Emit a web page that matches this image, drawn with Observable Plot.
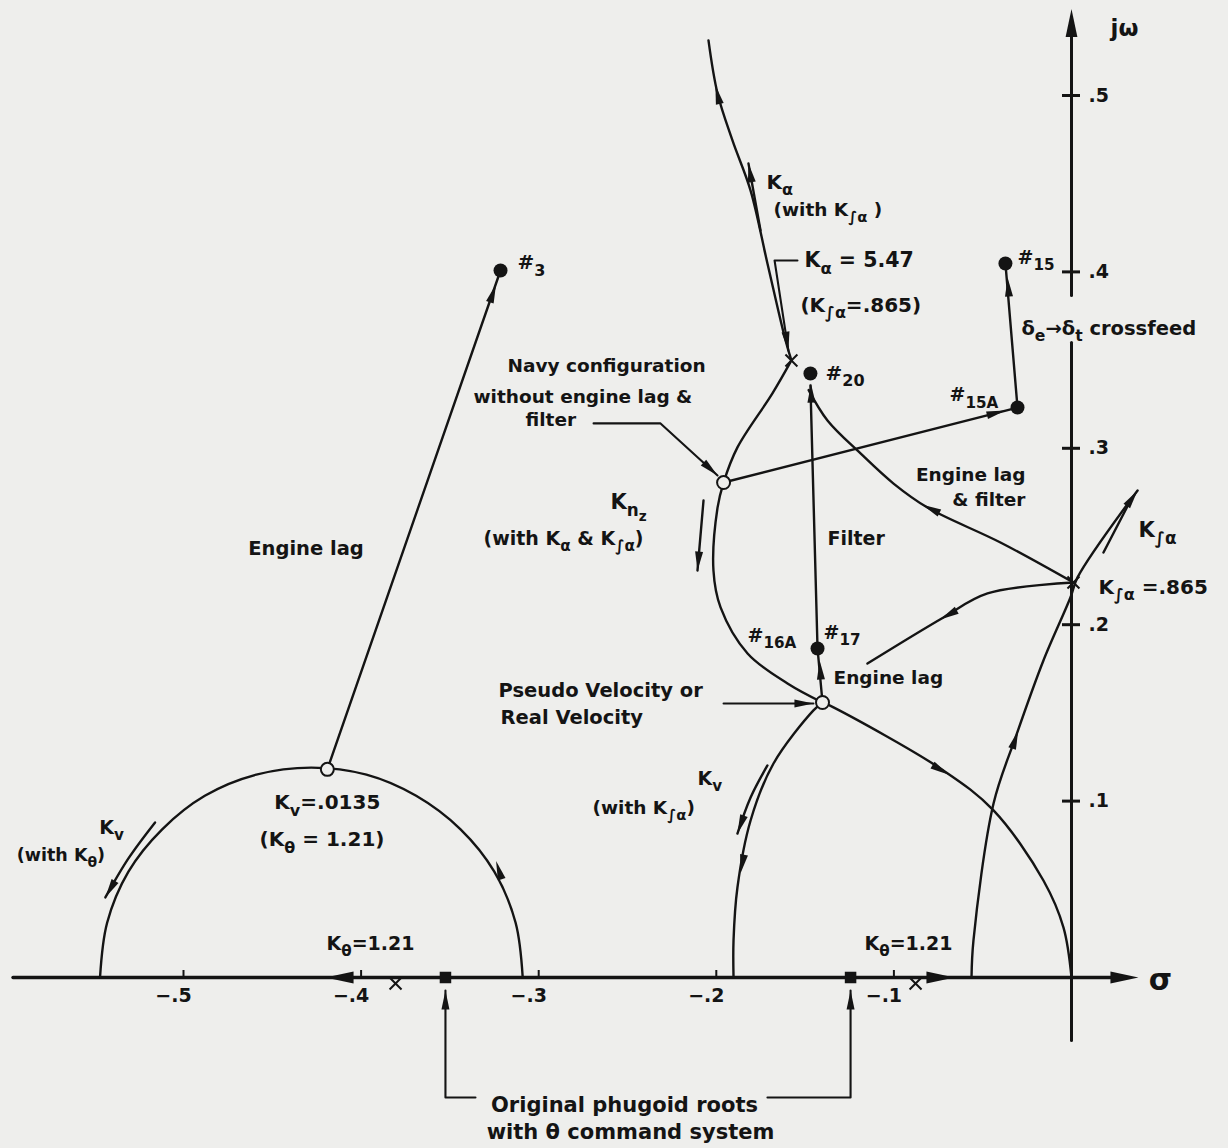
<!DOCTYPE html>
<html><head><meta charset="utf-8">
<script src="https://cdn.jsdelivr.net/npm/d3@7"></script>
<script src="https://cdn.jsdelivr.net/npm/@observablehq/plot@0.6"></script>
<style>html,body{margin:0;padding:0;background:#eeeeec;overflow:hidden}svg{display:block}</style>
</head><body><div id="chart"></div>
<script>
// ---------- data (σ, ω) ----------
const xTickValues = [-0.5, -0.4, -0.3, -0.2, -0.1];
const xTickLabels = ["−.5", "−.4", "−.3", "−.2", "−.1"];
const yTickValues = [0.1, 0.2, 0.3, 0.4, 0.5];
const yTickLabels = [".1", ".2", ".3", ".4", ".5"];

const semicircle = [[-0.547,0],[-0.543,0.031],[-0.531,0.060],[-0.512,0.084],[-0.488,0.103],[-0.459,0.115],[-0.428,0.119],[-0.397,0.115],[-0.369,0.103],[-0.344,0.084],[-0.325,0.060],[-0.313,0.031],[-0.309,0]];
const branchKalpha = [[-0.2044,0.5312],[-0.1993,0.5011],[-0.1909,0.4745],[-0.1807,0.4461],[-0.1712,0.4048],[-0.1610,0.3611],[-0.1577,0.3498]];
const branchKnz = [[-0.1577,0.3498],[-0.1684,0.3311],[-0.1881,0.3005],[-0.1959,0.2806],[-0.1993,0.2664],[-0.2016,0.2307],[-0.1976,0.2098],[-0.1824,0.1837],[-0.1599,0.1667],[-0.1402,0.1559]];
const branchLagFilter = [[0.0011,0.2239],[-0.0400,0.2466],[-0.0811,0.2664],[-0.1002,0.2800],[-0.1188,0.2971],[-0.1374,0.3158],[-0.1480,0.3330]];
const branchLag = [[0.0011,0.2239],[-0.0473,0.2177],[-0.0721,0.2041],[-0.1149,0.1780]];
const branchToOrigin = [[-0.1402,0.1559],[-0.1340,0.1531],[-0.0721,0.1173],[-0.0439,0.0947],[-0.0158,0.0550],[-0.0045,0.0283],[0,0]];
const branchToReal = [[-0.1402,0.1559],[-0.1453,0.1514],[-0.1678,0.1213],[-0.1807,0.0890],[-0.1881,0.0510],[-0.1903,0.0210],[-0.1903,0]];
const branchKfa = [[-0.0563,0],[-0.0552,0.0210],[-0.0439,0.0986],[-0.0315,0.1361],[-0.0158,0.1797],[-0.0006,0.2154],[0.0034,0.2268],[0.0372,0.2761]];
const kvThetaArrow = [[-0.516,0.0879],[-0.531,0.0675],[-0.544,0.0454]];
const kvFaArrow = [[-0.1712,0.1202],[-0.1807,0.1020],[-0.1881,0.0816]];

const engineLagLine = [[-0.419,0.118],[-0.3215,0.4008]];
const navyTo15A = [[-0.1959,0.2806],[-0.0304,0.3231]];
const line15Ato15 = [[-0.0304,0.3231],[-0.0372,0.4048]];
const filterLine = [[-0.1430,0.1865],[-0.1470,0.3356]];
const lagUpLine = [[-0.1402,0.1559],[-0.1430,0.1865]];
const kalphaArrow = [[-0.1751,0.4235],[-0.1819,0.4615]];
const knzArrow = [[-0.2072,0.2704],[-0.2106,0.2307]];
const kfaParallel = [[0.0180,0.2409],[0.0332,0.2704]];
const kaPointer = [[-0.1543,0.4065],[-0.1672,0.4065],[-0.1594,0.3554]];
const navyPointer = [[-0.2691,0.3141],[-0.2314,0.3141],[-0.1993,0.2846]];
const pseudoPointer = [[-0.1959,0.1553],[-0.1453,0.1553]];
const bracketLeft = [[-0.3525,-0.0074],[-0.3525,-0.068],[-0.3356,-0.068]];
const bracketRight = [[-0.1712,-0.068],[-0.1244,-0.068],[-0.1244,-0.0074]];

const filledDots = [[-0.3215,0.4008],[-0.1470,0.3424],[-0.0372,0.4048],[-0.0304,0.3231],[-0.1430,0.1865]];
const openCircles = [[-0.419,0.118],[-0.1959,0.2806],[-0.1402,0.1559]];
const squares = [[-0.3525,0],[-0.1244,0]];
const crosses = [[-0.3806,-0.0034],[-0.0878,-0.0034],[-0.1577,0.3498],[0.0011,0.2239]];

// arrowheads: [tipσ, tipω, fromσ, fromω]
const arrowheads = [
  [-0.3240,0.3930,-0.419,0.118],[-0.324,0.066,-0.316,0.040],[-0.544,0.0454,-0.531,0.0675],
  [-0.2005,0.5057,-0.1965,0.4887],[-0.1819,0.4615,-0.1751,0.4235],[-0.1594,0.3554,-0.1672,0.4065],
  [-0.1467,0.3367,-0.1430,0.1865],[-0.1418,0.1797,-0.1402,0.1559],[-0.0372,0.3214,-0.1959,0.2806],
  [-0.0360,0.3968,-0.0304,0.3231],[-0.0840,0.2680,-0.0400,0.2466],[-0.0740,0.2030,-0.0473,0.2177],
  [-0.0690,0.1150,-0.1340,0.1531],[-0.1864,0.0590,-0.1807,0.0890],[-0.1881,0.0816,-0.1807,0.1020],
  [-0.2106,0.2307,-0.2072,0.2704],[-0.0300,0.1400,-0.0439,0.0986],[0.0372,0.2761,0.0034,0.2268],
  [-0.1993,0.2846,-0.2314,0.3141],[-0.1453,0.1553,-0.1959,0.1553],
  [-0.3525,-0.0074,-0.3525,-0.068],[-0.1244,-0.0074,-0.1244,-0.068]
];
const axisArrowheads = [[0.0377,0,0,0],[0,0.549,0,0.5],[-0.420,0,-0.40,0],[-0.0659,0,-0.09,0]];

const xAxisLine = [[-0.596,0],[0.030,0]];
const yAxisLower = [[0,-0.0357],[0,0.360]];
const yAxisUpper = [[0,0.3866],[0,0.535]];

// labels: [text, σ, ω, size]
const labelsMiddle = [
  ["Engine lag",-0.431,0.243,19.5],["K_{v}=.0135",-0.419,0.099,20],["(K_{θ} = 1.21)",-0.422,0.078,20],
  ["K_{θ}=1.21",-0.3947,0.0193,19],["K_{θ}=1.21",-0.0918,0.0193,19],["K_{v}",-0.5405,0.085,19],
  ["(with K_{θ})",-0.569,0.069,17.5],["Original phugoid roots",-0.2517,-0.0726,21],
  ["with θ command system",-0.2483,-0.0879,21],["σ",0.0501,-0.0017,30]
];
const labelsStart = [
  ["#_{3}",-0.312,0.405,20],["Navy configuration",-0.3176,0.3464,18.5],["without engine lag &",-0.3367,0.3288,18.5],
  ["filter",-0.3074,0.3158,18.5],["K_{n}~{z}",-0.2596,0.2693,21],["(with K_{α} & K_{∫α})",-0.3311,0.2489,19],
  ["K_{α}",-0.1717,0.4507,20],["(with K_{∫α} )",-0.1678,0.4348,18.5],["K_{α} = 5.47",-0.1503,0.4065,20.5],
  ["(K_{∫α}=.865)",-0.1526,0.381,20],["#_{20}",-0.1385,0.3424,20],["#_{15}",-0.0304,0.408,19],
  ["#_{15A}",-0.0687,0.330,19],["δ_{e}→δ_{t} crossfeed",-0.0282,0.3679,19.5],["Filter",-0.1374,0.2489,19],
  ["#_{16A}",-0.1824,0.1939,19],["#_{17}",-0.1396,0.1956,19],["Engine lag",-0.134,0.1695,18.5],
  ["Pseudo Velocity or",-0.3226,0.1627,19.5],["Real Velocity",-0.3215,0.1474,19.5],["K_{v}",-0.2106,0.1128,19],
  ["(with K_{∫α})",-0.2697,0.0958,18.5],["K_{∫α} =.865",0.0152,0.2211,20],["K_{∫α}",0.0377,0.2534,21],
  ["jω",0.022,0.538,23]
];
const labelsEnd = [["Engine lag",-0.0259,0.2846,18.5],["& filter",-0.0259,0.2704,18.5]];

// ---------- chart ----------
const W = 1228, H = 1148;
const X_DOMAIN = [-0.60304, 0.08840];
const Y_DOMAIN = [-0.09694, 0.55385];
const kx = W / (X_DOMAIN[1] - X_DOMAIN[0]);
const ky = H / (Y_DOMAIN[1] - Y_DOMAIN[0]);
const INK = "#141414", PAPER = "#eeeeec";
const FONT = "'DejaVu Sans', 'Noto Sans', sans-serif";

const arrowSym = {draw(ctx, size) {
  const s = Math.sqrt(size / Math.PI);
  ctx.moveTo(0, 0); ctx.lineTo(s * 0.42, s * 2); ctx.lineTo(-s * 0.42, s * 2); ctx.closePath();
}};
const angle = (d) => Math.atan2((d[0] - d[2]) * kx, (d[1] - d[3]) * ky) * 180 / Math.PI;

const P = {x: d => d[0], y: d => d[1]};
const smooth = [semicircle, branchKalpha, branchKnz, branchLagFilter, branchLag, branchToOrigin, branchToReal, branchKfa, kvThetaArrow, kvFaArrow];
const straight = [engineLagLine, navyTo15A, line15Ato15, filterLine, lagUpLine, kalphaArrow, knzArrow, kfaParallel];
const pointers = [kaPointer, navyPointer, pseudoPointer, bracketLeft, bracketRight];

const textMark = (arr, anchor) => Plot.text(arr, {x: d => d[1], y: d => d[2], text: d => d[0], fontSize: d => d[3], textAnchor: anchor, fill: INK, fontWeight: "bold", fontFamily: FONT});

const marks = [
  Plot.line(xAxisLine, {...P, stroke: INK, strokeWidth: 3.4}),
  Plot.line(yAxisLower, {...P, stroke: INK, strokeWidth: 3}),
  Plot.line(yAxisUpper, {...P, stroke: INK, strokeWidth: 3}),
  Plot.ruleX(xTickValues, {y1: 0, y2: 7 / ky, stroke: INK, strokeWidth: 2}),
  Plot.ruleY(yTickValues, {x1: -9 / kx, x2: 9 / kx, stroke: INK, strokeWidth: 3}),
  ...smooth.map(c => Plot.line(c, {...P, curve: "catmull-rom", stroke: INK, strokeWidth: 2.4})),
  ...straight.map(c => Plot.line(c, {...P, stroke: INK, strokeWidth: 2.4})),
  ...pointers.map(c => Plot.line(c, {...P, stroke: INK, strokeWidth: 2.1})),
  Plot.dot(arrowheads, {x: d => d[0], y: d => d[1], rotate: angle, symbol: arrowSym, r: 9.5, fill: INK, stroke: "none"}),
  Plot.dot(axisArrowheads, {x: d => d[0], y: d => d[1], rotate: angle, symbol: arrowSym, r: 14, fill: INK, stroke: "none"}),
  Plot.dot(filledDots, {...P, r: 7, fill: INK}),
  Plot.dot(openCircles, {...P, r: 6.5, fill: PAPER, stroke: INK, strokeWidth: 2}),
  Plot.dot(squares, {...P, symbol: "square", r: 6.5, fill: INK}),
  Plot.dot(crosses, {...P, symbol: "times", r: 5.5, stroke: INK, strokeWidth: 2}),
  Plot.text(xTickValues, {x: d => d - 10 / kx, y: -0.0102, text: (d, i) => xTickLabels[i], fontSize: 19, fill: INK, fontWeight: "bold", fontFamily: FONT}),
  Plot.text(yTickValues, {x: 0.0096, y: d => d, text: (d, i) => yTickLabels[i], fontSize: 19, textAnchor: "start", fill: INK, fontWeight: "bold", fontFamily: FONT}),
  textMark(labelsMiddle, "middle"),
  textMark(labelsStart, "start"),
  textMark(labelsEnd, "end")
];

const chart = Plot.plot({
  width: W, height: H,
  marginTop: 0, marginRight: 0, marginBottom: 0, marginLeft: 0,
  x: {domain: X_DOMAIN, axis: null},
  y: {domain: Y_DOMAIN, axis: null},
  style: {background: PAPER, fontFamily: FONT, color: INK},
  marks
});

// rich text: _{sub}, ^{sup}, ~{sub-sub}
const SHIFT = {"_": [0.32, 0.8], "^": [-0.38, 0.8], "~": [0.58, 0.65]};
chart.querySelectorAll("text").forEach(t => {
  const s = t.textContent;
  if (!/[_^~]\{/.test(s)) return;
  t.textContent = "";
  const re = /([_^~])\{([^}]*)\}|([^_^~]+)/g;
  let cur = 0, m;
  while ((m = re.exec(s))) {
    const ts = document.createElementNS("http://www.w3.org/2000/svg", "tspan");
    let target = 0, scale = 1;
    if (m[1]) { [target, scale] = SHIFT[m[1]]; ts.textContent = m[2]; ts.style.fontSize = (scale * 100) + "%"; }
    else ts.textContent = m[3];
    ts.setAttribute("dy", ((target - cur) / scale).toFixed(3) + "em");
    cur = target;
    t.appendChild(ts);
  }
});
document.getElementById("chart").appendChild(chart);
</script></body></html>
